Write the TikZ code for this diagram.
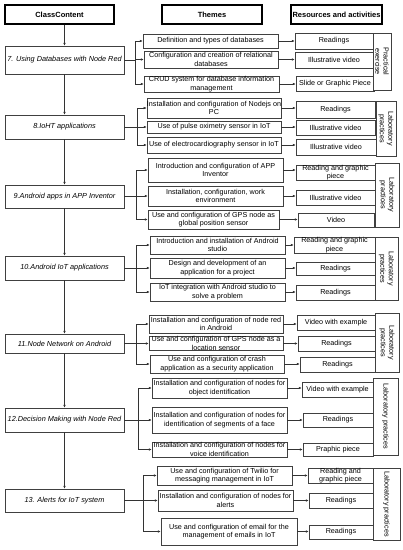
\documentclass[tikz,border=0pt]{standalone}
\usepackage{fontspec}
\setmainfont{Liberation Sans}
\usetikzlibrary{arrows.meta}

\begin{document}
\begin{tikzpicture}[x = 1pt, y = -1pt, >={Latex[length=3pt, width=2.6pt]},
		every node/.style = {inner sep = 0pt, align = center, font = \fontsize{7.2}{8.3}\selectfont},
		box/.style = {draw = black!75, fill = white, line width = 0.5pt},
		head/.style = {draw = black, line width = 1.4pt, font = \fontsize{7.5}{8.5}\selectfont\bfseries},
		topic/.style = {box, minimum width = 119pt, font = \fontsize{7.3}{9}\selectfont\itshape},
		link/.style = {black!80, line width = 0.5pt}]
			\useasboundingbox (0, 0) rectangle (403, 550);
			% column heads
			\node[head, minimum width = 109pt, minimum height = 19pt] (hcls) at (59.5, 14.5) {ClassContent};
			\node[head, minimum width = 100pt, minimum height = 19pt] (hthm) at (212, 14.5) {Themes};
			\node[head, minimum width = 91pt, minimum height = 19pt] (hres) at (336.5, 14.5) {Resources and activities};
			% class contents
			\node[topic, minimum height = 28pt] (c7) at (64.5, 60) {7. Using Databases with Node Red};
			\node[topic, minimum height = 24pt] (c8) at (64.5, 127) {8.IoHT applications};
			\node[topic, minimum height = 23pt] (c9) at (64.5, 196.5) {9.Android apps in APP Inventor};
			\node[topic, minimum height = 24pt] (c10) at (64.5, 268) {10.Android IoT applications};
			\node[topic, minimum height = 19pt] (c11) at (64.5, 343.5) {11.Node Network on Android};
			\node[topic, minimum height = 24pt] (c12) at (64.5, 420) {12.Decision Making with Node Red};
			\node[topic, minimum height = 23pt] (c13) at (64.5, 500.5) {13. Alerts for IoT system};
			\draw[->, link] (hcls.south -| c7.north) -- (c7.north);
			\draw[->, link] (c7) -- (c8);
			\draw[->, link] (c8) -- (c9);
			\draw[->, link] (c9) -- (c10);
			\draw[->, link] (c10) -- (c11);
			\draw[->, link] (c11) -- (c12);
			\draw[->, link] (c12) -- (c13);
			% themes
			\node[box, minimum width = 135pt, minimum height = 14pt] (t7a) at (210.5, 41) {Definition and types of databases};
			\node[box, minimum width = 134pt, minimum height = 17pt] (t7b) at (211, 59.5) {Configuration and creation of relational\\databases};
			\node[box, minimum width = 135pt, minimum height = 16pt] (t7c) at (211.5, 84) {CRUD system for database information\\management};
			\node[box, minimum width = 134pt, minimum height = 20pt] (t8a) at (214, 108) {Installation and configuration of Nodejs on\\PC};
			\node[box, minimum width = 134pt, minimum height = 12pt] (t8b) at (214, 127) {Use of pulse oximetry sensor in IoT};
			\node[box, minimum width = 134pt, minimum height = 16pt] (t8c) at (214, 145) {Use of electrocardiography sensor in IoT};
			\node[box, minimum width = 135pt, minimum height = 24pt] (t9a) at (215.5, 170) {Introduction and configuration of APP\\Inventor};
			\node[box, minimum width = 135pt, minimum height = 20pt] (t9b) at (215.5, 196) {Installation, configuration, work\\environment};
			\node[box, minimum width = 131pt, minimum height = 19pt] (t9c) at (213.5, 219.5) {Use and configuration of GPS node as\\global position sensor};
			\node[box, minimum width = 135pt, minimum height = 18pt] (t10a) at (217.5, 245) {Introduction and installation of Android\\studio};
			\node[box, minimum width = 135pt, minimum height = 20pt] (t10b) at (217.5, 268) {Design and development of an\\application for a project};
			\node[box, minimum width = 135pt, minimum height = 18pt] (t10c) at (217.5, 292) {IoT integration with Android studio to\\solve a problem};
			\node[box, minimum width = 134pt, minimum height = 18pt] (t11a) at (216, 324) {Installation and configuration of node red\\in Android};
			\node[box, minimum width = 134pt, minimum height = 13pt] (t11b) at (216, 343.5) {Use and configuration of GPS node as a\\location sensor};
			\node[box, minimum width = 134pt, minimum height = 18pt] (t11c) at (217, 364) {Use and configuration of crash\\application as a security application};
			\node[box, minimum width = 135pt, minimum height = 20pt] (t12a) at (219.5, 388) {Installation and configuration of nodes for\\object identification};
			\node[box, minimum width = 135pt, minimum height = 26pt] (t12b) at (219.5, 420) {Installation and configuration of nodes for\\identification of segments of a face};
			\node[box, minimum width = 135pt, minimum height = 15pt] (t12c) at (219.5, 449.5) {Installation and configuration of nodes for\\voice identification};
			\node[box, minimum width = 135pt, minimum height = 19pt] (t13a) at (224.5, 475.5) {Use and configuration of Twilio for\\messaging management in IoT};
			\node[box, minimum width = 135pt, minimum height = 21pt] (t13b) at (225.5, 500.5) {Installation and configuration of nodes for\\alerts};
			\node[box, minimum width = 136pt, minimum height = 27pt] (t13c) at (229, 531.5) {Use and configuration of email for the\\management of emails in IoT};
			% resources
			\node[box, minimum width = 78pt, minimum height = 16pt] (r7a) at (334, 41) {Readings};
			\node[box, minimum width = 78pt, minimum height = 16pt] (r7b) at (334, 60) {Illustrative video};
			\node[box, minimum width = 78pt, minimum height = 15pt] (r7c) at (335, 83.5) {Slide or Graphic Piece};
			\node[box, minimum width = 79pt, minimum height = 17pt] (r8a) at (335.5, 109.5) {Readings};
			\node[box, minimum width = 79pt, minimum height = 15pt] (r8b) at (335.5, 127.5) {Illustrative video};
			\node[box, minimum width = 80pt, minimum height = 16pt] (r8c) at (336, 147) {Illustrative video};
			\node[box, minimum width = 79pt, minimum height = 15pt] (r9a) at (335.5, 172.5) {Reading and graphic\\piece};
			\node[box, minimum width = 79pt, minimum height = 15pt] (r9b) at (335.5, 197.5) {Illustrative video};
			\node[box, minimum width = 76pt, minimum height = 14pt] (r9c) at (336, 220) {Video};
			\node[box, minimum width = 81pt, minimum height = 16pt] (r10a) at (334.5, 245) {Reading and graphic\\piece};
			\node[box, minimum width = 79pt, minimum height = 13pt] (r10b) at (335.5, 268.5) {Readings};
			\node[box, minimum width = 79pt, minimum height = 15pt] (r10c) at (335.5, 292.5) {Readings};
			\node[box, minimum width = 78pt, minimum height = 15pt] (r11a) at (336, 322.5) {Video with example};
			\node[box, minimum width = 77pt, minimum height = 15pt] (r11b) at (336.5, 343.5) {Readings};
			\node[box, minimum width = 75pt, minimum height = 15pt] (r11c) at (337.5, 364.5) {Readings};
			\node[box, minimum width = 71pt, minimum height = 15pt] (r12a) at (337.5, 389.5) {Video with example};
			\node[box, minimum width = 70pt, minimum height = 14pt] (r12b) at (338, 420) {Readings};
			\node[box, minimum width = 70pt, minimum height = 13pt] (r12c) at (338, 449.5) {Praphic piece};
			\node[box, minimum width = 65pt, minimum height = 15pt] (r13a) at (340.5, 475.5) {Reading and\\graphic piece};
			\node[box, minimum width = 64pt, minimum height = 15pt] (r13b) at (341, 500.5) {Readings};
			\node[box, minimum width = 64pt, minimum height = 14pt] (r13c) at (341, 532) {Readings};
			% activity type
			\node[box, rotate = -90, minimum width = 57pt, minimum height = 18pt] (s7) at (382, 61.5) {Practical\\exercise};
			\node[box, rotate = -90, minimum width = 55pt, minimum height = 20pt] (s8) at (386, 128.5) {Laboratory\\practices};
			\node[box, rotate = -90, minimum width = 64pt, minimum height = 24pt] (s9) at (387, 195) {Laboratory\\practices};
			\node[box, rotate = -90, minimum width = 63pt, minimum height = 23pt] (s10) at (386.5, 268.5) {Laboratory\\practices};
			\node[box, rotate = -90, minimum width = 59pt, minimum height = 24pt] (s11) at (387, 342.5) {Laboratory\\practices};
			\node[box, rotate = -90, minimum width = 77pt, minimum height = 25pt] (s12) at (385.5, 416.5) {Laboratory practices};
			\node[box, rotate = -90, minimum width = 72pt, minimum height = 27pt] (s13) at (386.5, 504) {Laboratory practices};
			% class content to themes
			\coordinate (j7) at (135, 60);
			\coordinate (j8) at (137, 127);
			\coordinate (j9) at (136, 196.5);
			\coordinate (j10) at (136, 268);
			\coordinate (j11) at (136, 343.5);
			\coordinate (j12) at (138, 420);
			\coordinate (j13) at (143, 500.5);
			\foreach \n in {7, 8, ..., 13} {
				\draw[link] (c\n.east) -- (j\n);
				\foreach \t in {a, b, c}
					\draw[->, link] (j\n) |- (t\n\t.west);
			}
			% themes to resources
			\foreach \n in {7, 8, ..., 13}
				\foreach \t in {a, b, c}
					\draw[->, link] (t\n\t.east) -- (t\n\t.east -| r\n\t.west);
		\end{tikzpicture}
\end{document}
